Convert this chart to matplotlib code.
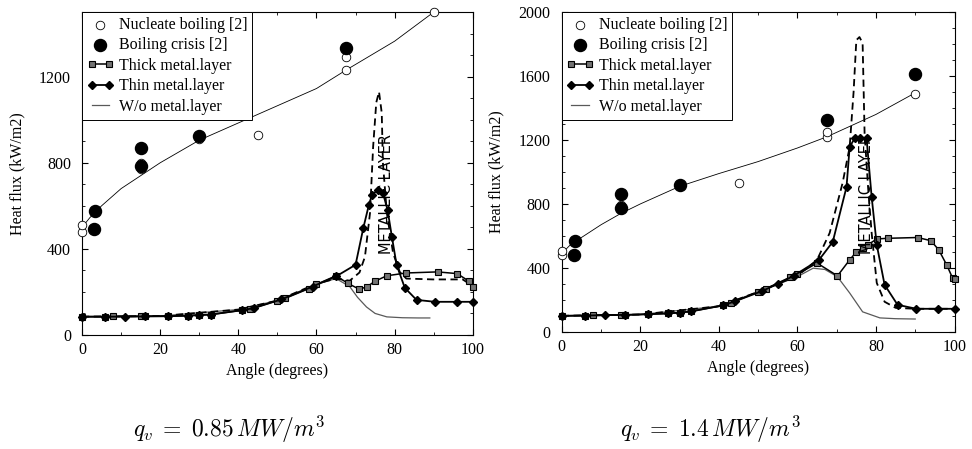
import matplotlib
matplotlib.use("Agg")
import matplotlib.pyplot as plt
from matplotlib.ticker import MultipleLocator

plt.rcParams['font.family'] = ['Liberation Serif', 'DejaVu Serif']
plt.rcParams['mathtext.fontset'] = 'cm'

# ---- data: qv = 0.85 MW/m3 (left panel) ----
nb_x_a = [0, 0, 15, 15, 30, 45, 67.5, 67.5, 90]
nb_y_a = [480, 510, 770, 800, 910, 930, 1230, 1290, 1500]
bc_x_a = [3, 3.3, 15, 15, 30, 67.5]
bc_y_a = [490, 575, 870, 785, 925, 1335]
fit_x_a = [0, 2, 5, 10, 15, 20, 30, 40, 50, 60, 67.5, 80, 90]
fit_y_a = [500, 545, 600, 680, 740, 800, 905, 985, 1065, 1145, 1230, 1365, 1500]

thick_x_a = [0, 6, 8, 15, 16, 22, 27, 30, 33, 41, 43, 50, 52, 58, 60, 65, 68, 71, 73, 75,
             78, 83, 91, 96, 99, 100]
thick_y_a = [85, 85, 86, 87, 87, 88, 90, 93, 95, 115, 120, 160, 170, 215, 235, 275, 240, 212, 225, 250,
             275, 288, 293, 285, 250, 225]
thin_x_a = [0, 6, 11, 16, 22, 27, 30, 33, 41, 44, 51, 59, 65, 70, 72, 73.4, 74.2, 75.7, 77,
            78.2, 79.3, 80.5, 82.6, 85.6, 90.3, 95.9, 100]
thin_y_a = [85, 85, 85, 86, 87, 89, 92, 95, 115, 125, 165, 225, 272, 326, 498, 604, 651, 674, 660,
            580, 456, 326, 219, 163, 154, 154, 154]
dash_x_a = [0, 20, 40, 50, 60, 65, 68.5, 71, 72.4, 73.7, 74.5, 75.3, 76, 76.7, 77, 78, 79.6,
            81.3, 83, 89.8, 97.4, 100]
dash_y_a = [85, 88, 118, 160, 238, 262, 252, 290, 363, 567, 875, 1080, 1130, 1032, 800, 567, 381,
            293, 262, 258, 258, 228]
wo_x_a = [0, 20, 40, 50, 60, 65, 68.5, 70.5, 72.8, 75, 78, 82, 86, 89]
wo_y_a = [85, 88, 118, 160, 235, 262, 225, 175, 130, 100, 84, 80, 79, 79]

# ---- data: qv = 1.4 MW/m3 (right panel) ----
nb_x_b = [0, 0, 15, 15, 30, 45, 67.5, 67.5, 90]
nb_y_b = [480, 505, 770, 795, 910, 930, 1220, 1250, 1490]
bc_x_b = [3, 3.3, 15, 15, 30, 67.5, 90]
bc_y_b = [481, 570, 862, 773, 920, 1325, 1612]
fit_x_b = [0, 2, 5, 10, 15, 20, 30, 40, 50, 60, 67.5, 80, 90]
fit_y_b = [490, 540, 590, 670, 740, 800, 910, 990, 1065, 1150, 1220, 1360, 1495]

thick_x_b = [0, 6, 8, 15, 16, 22, 27, 30, 33, 41, 43, 50, 52, 58, 60, 65, 70.2, 73.3, 75, 76.6,
             78, 80.2, 83, 90.6, 94, 96, 98, 99.5, 100]
thick_y_b = [100, 102, 103, 105, 106, 110, 115, 120, 128, 165, 180, 250, 270, 340, 360, 430, 350, 450,
             500, 525, 545, 581, 585, 590, 570, 512, 419, 337, 330]
thin_x_b = [0, 6, 11, 16, 22, 27, 30, 33, 41, 44, 51, 55, 59, 65.5, 69, 72.5, 73.3, 74.6, 76,
            77.6, 78.9, 80.2, 82.2, 85.5, 90.3, 95.8, 100]
thin_y_b = [100, 102, 104, 106, 110, 115, 120, 128, 165, 190, 255, 300, 350, 450, 563, 906, 1156, 1212,
            1215, 1212, 844, 544, 294, 169, 144, 144, 144]
dash_x_b = [0, 20, 40, 50, 60, 65, 68.2, 71.5, 73.3, 74.3, 75, 75.8, 76.6, 77.1, 78, 78.9, 80.2,
            82.2, 85, 90, 100]
dash_y_b = [100, 108, 160, 250, 350, 450, 618, 931, 1156, 1500, 1825, 1844, 1806, 1244, 900, 618, 306,
            188, 150, 144, 144]
wo_x_b = [0, 20, 40, 50, 60, 64, 67, 70.2, 73.3, 76.6, 81, 85, 90]
wo_y_b = [100, 108, 160, 250, 345, 398, 390, 344, 243, 125, 87, 82, 80]

panels = [
    dict(nb=(nb_x_a, nb_y_a), bc=(bc_x_a, bc_y_a), fit=(fit_x_a, fit_y_a),
         thick=(thick_x_a, thick_y_a), thin=(thin_x_a, thin_y_a),
         dash=(dash_x_a, dash_y_a), wo=(wo_x_a, wo_y_a),
         ymax=1500, yticks=[0, 400, 800, 1200], txt=(78, 656),
         rect=[0.0844, 0.254, 0.402, 0.719], label=r'$q_v\;=\;0.85\,MW/m^3$', lx=0.236),
    dict(nb=(nb_x_b, nb_y_b), bc=(bc_x_b, bc_y_b), fit=(fit_x_b, fit_y_b),
         thick=(thick_x_b, thick_y_b), thin=(thin_x_b, thin_y_b),
         dash=(dash_x_b, dash_y_b), wo=(wo_x_b, wo_y_b),
         ymax=2000, yticks=[0, 400, 800, 1200, 1600, 2000], txt=(77.6, 862),
         rect=[0.578, 0.261, 0.404, 0.712], label=r'$q_v\;=\;1.4\,MW/m^3$', lx=0.731),
]

fig = plt.figure(figsize=(9.72, 4.49), dpi=100)

for p in panels:
    ax = fig.add_axes(p['rect'])
    ax.plot(*p['fit'], color='black', lw=0.6, zorder=2)
    ax.plot(*p['wo'], color='0.35', lw=0.9, label='W/o metal.layer', zorder=2)
    ax.plot(*p['dash'], color='black', lw=1.3, ls=(0, (4, 2.5)), zorder=3)
    ax.plot(*p['thick'], color='black', lw=1.1, marker='s', ms=4, mfc='0.45', mec='black',
            mew=0.8, label='Thick metal.layer', zorder=4, clip_on=False)
    ax.plot(*p['thin'], color='black', lw=1.3, marker='D', ms=4.5, mfc='black', mec='black',
            label='Thin metal.layer', zorder=4, clip_on=False)
    ax.scatter(*p['nb'], s=38, facecolors='white', edgecolors='black', linewidths=0.6,
               label='Nucleate boiling [2]', zorder=5, clip_on=False)
    ax.scatter(*p['bc'], s=75, color='black', label='Boiling crisis [2]', zorder=6, clip_on=False)

    ax.text(p['txt'][0], p['txt'][1], 'METALLIC LAYER', rotation=90, ha='center', va='center',
            family='DejaVu Sans', fontsize=10.5, zorder=7)

    ax.set_xlim(0, 100)
    ax.set_ylim(0, p['ymax'])
    ax.set_xticks([0, 20, 40, 60, 80, 100])
    ax.set_yticks(p['yticks'])
    ax.xaxis.set_minor_locator(MultipleLocator(10))
    ax.yaxis.set_minor_locator(MultipleLocator(100))
    ax.tick_params(which='both', direction='in', top=True, right=True, labelsize=11.5)
    ax.tick_params(which='major', length=4, width=0.8)
    ax.tick_params(which='minor', length=2, width=0.6)
    ax.tick_params(axis='x', pad=5)
    ax.tick_params(axis='y', pad=8)
    for s in ax.spines.values():
        s.set_linewidth(0.8)
    ax.set_xlabel('Angle (degrees)', fontsize=11.5, labelpad=4)
    ax.set_ylabel('Heat flux (kW/m2)', fontsize=11.5, labelpad=10)

    h, l = ax.get_legend_handles_labels()
    order = ['Nucleate boiling [2]', 'Boiling crisis [2]', 'Thick metal.layer',
             'Thin metal.layer', 'W/o metal.layer']
    hs = [h[l.index(o)] for o in order]
    leg = ax.legend(hs, order, loc='upper left', fontsize=11.5, numpoints=2, scatterpoints=1,
                    handlelength=1.7, handletextpad=0.3, labelspacing=0.28, borderaxespad=0,
                    borderpad=0.3, fancybox=False, framealpha=1, edgecolor='black')
    leg.get_frame().set_linewidth(0.7)
    leg.set_zorder(10)

    fig.text(p['lx'], 0.043, p['label'], fontsize=17, ha='center', va='center')

fig.savefig('out.png', dpi=100)
